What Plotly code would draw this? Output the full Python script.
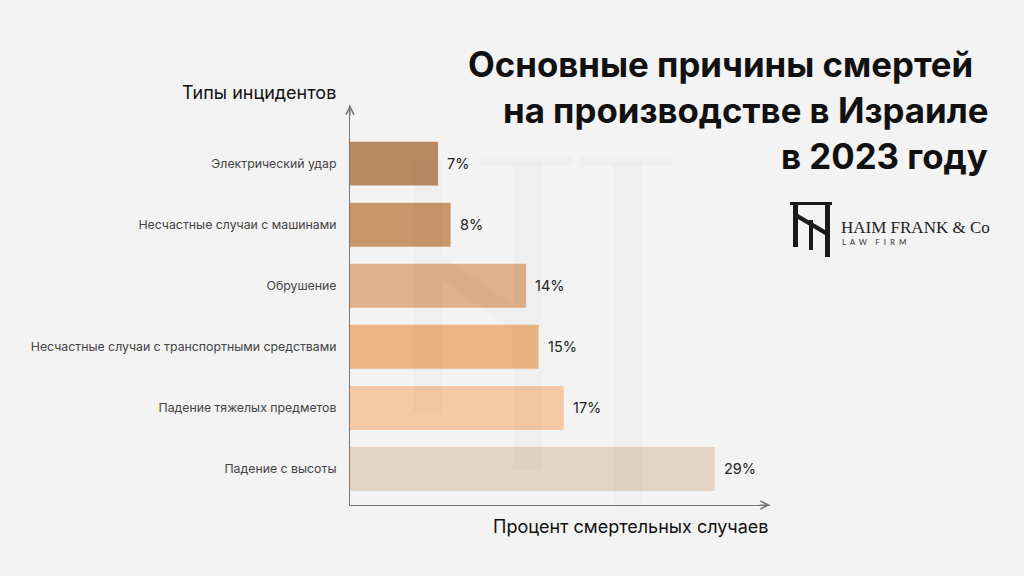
import plotly.graph_objects as go

categories = [
    "Падение с высоты",
    "Падение тяжелых предметов",
    "Несчастные случаи с транспортными средствами",
    "Обрушение",
    "Несчастные случаи с машинами",
    "Электрический удар",
]
values = [29, 17, 15, 14, 8, 7]
colors = ["#e6d4c2", "#f4c9a3", "#ecb585", "#e0b18a", "#c9966a", "#b98a62"]
value_labels = [f"{v}%" for v in values]

title_lines = ["Основные причины смертей", "на производстве в Израиле", "в 2023 году"]
y_axis_title = "Типы инцидентов"
x_axis_title = "Процент смертельных случаев"

W, H = 1024, 576
L, R, T, B = 350, 770, 105, 505
BG = "#f3f3f3"
FONT = "Inter"


def px(x):
    return (x - L) / (R - L)


def py(y):
    return (B - y) / (B - T)


fig = go.Figure()
fig.add_trace(go.Bar(
    y=categories, x=values, orientation="h",
    marker=dict(color=colors, line=dict(width=0)),
    width=0.72, hoverinfo="skip",
))

annotations = []
for c, v, t in zip(categories, values, value_labels):
    annotations.append(dict(
        x=v, y=c, xref="x", yref="y", text=t, showarrow=False,
        xanchor="left", yanchor="middle", xshift=7,
        font=dict(family=FONT, size=14.5, color="#222222"),
    ))

# title lines
title_pos = [(975, 64), (990, 110), (990, 156)]
for line, (tx, ty) in zip(title_lines, title_pos):
    annotations.append(dict(
        x=px(tx), y=py(ty), xref="paper", yref="paper", text=f"<b>{line}</b>",
        showarrow=False, xanchor="right", yanchor="middle",
        font=dict(family=FONT, size=34.8, color="#111111"),
    ))

# axis titles
annotations.append(dict(
    x=px(338), y=py(92), xref="paper", yref="paper", text=y_axis_title,
    showarrow=False, xanchor="right", yanchor="middle",
    font=dict(family=FONT, size=18, color="#111111"),
))
annotations.append(dict(
    x=px(771), y=py(526), xref="paper", yref="paper", text=x_axis_title,
    showarrow=False, xanchor="right", yanchor="middle",
    font=dict(family=FONT, size=18, color="#111111"),
))

# axis arrowheads
annotations.append(dict(
    x=0, y=1, xref="paper", yref="paper", ax=0, ay=12, axref="pixel", ayref="pixel",
    text="", showarrow=True, arrowhead=5, arrowsize=1.3, arrowwidth=1.2, arrowcolor="#777777",
))
annotations.append(dict(
    x=1, y=0, xref="paper", yref="paper", ax=-12, ay=0, axref="pixel", ayref="pixel",
    text="", showarrow=True, arrowhead=5, arrowsize=1.3, arrowwidth=1.2, arrowcolor="#777777",
))

# logo text
annotations.append(dict(
    x=px(839), y=py(227), xref="paper", yref="paper", text="HAIM FRANK &amp; Co",
    showarrow=False, xanchor="left", yanchor="middle",
    font=dict(family="Liberation Serif", size=17, color="#222222"),
))
annotations.append(dict(
    x=px(840), y=py(242), xref="paper", yref="paper",
    text="L&nbsp;&nbsp;A&nbsp;&nbsp;W&nbsp;&nbsp;&nbsp;&nbsp;F&nbsp;&nbsp;I&nbsp;&nbsp;R&nbsp;&nbsp;M",
    showarrow=False, xanchor="left", yanchor="middle",
    font=dict(family="Lato", size=8, color="#333333"),
))

shapes = []


def rect(x0, y0, x1, y1, color, layer="above"):
    shapes.append(dict(type="rect", xref="paper", yref="paper",
                       x0=px(x0), x1=px(x1), y0=py(y0), y1=py(y1),
                       fillcolor=color, line=dict(width=0), layer=layer))


# watermark (faint)
wm = "rgba(0,0,0,0.015)"
rect(413, 160, 442, 413, wm)
rect(513, 163, 542, 470, wm)
rect(613, 163, 642, 507, wm)
rect(480, 157, 573, 166, wm)
rect(580, 157, 673, 166, wm)
shapes.append(dict(type="path", xref="paper", yref="paper",
                   path=f"M{px(442)},{py(255)} L{px(513)},{py(305)} L{px(513)},{py(330)} L{px(442)},{py(280)} Z",
                   fillcolor=wm, line=dict(width=0), layer="above"))

# logo monogram
mk = "#1a1a1a"
rect(790, 202, 832, 205, mk)
rect(793, 202, 798, 247, mk)
rect(825, 202, 830, 257, mk)
rect(809, 220, 813, 250, mk)
shapes.append(dict(type="path", xref="paper", yref="paper",
                   path=f"M{px(798)},{py(214)} L{px(825)},{py(230)} L{px(825)},{py(235)} L{px(798)},{py(219)} Z",
                   fillcolor=mk, line=dict(width=0), layer="above"))

fig.update_layout(
    width=W, height=H,
    margin=dict(l=L, r=W - R, t=T, b=H - B, pad=0),
    paper_bgcolor=BG, plot_bgcolor=BG,
    showlegend=False, bargap=0.28,
    annotations=annotations, shapes=shapes,
    font=dict(family=FONT),
)
fig.update_xaxes(
    range=[0, 33.4], showgrid=False, zeroline=False, showticklabels=False,
    showline=True, linecolor="#777777", linewidth=1.2, ticks="", fixedrange=True,
)
fig.update_yaxes(
    range=[-0.59, 5.96], showgrid=False, zeroline=False,
    showline=True, linecolor="#777777", linewidth=1.2, ticks="",
    ticklabelstandoff=10,
    tickfont=dict(family=FONT, size=12.3, color="#444444"),
    categoryorder="array", categoryarray=categories, fixedrange=True,
)

fig.write_html(
    "out.html",
    config={"displayModeBar": False},
    post_script="document.body.style.margin='0';document.body.style.background='#f3f3f3';",
)
